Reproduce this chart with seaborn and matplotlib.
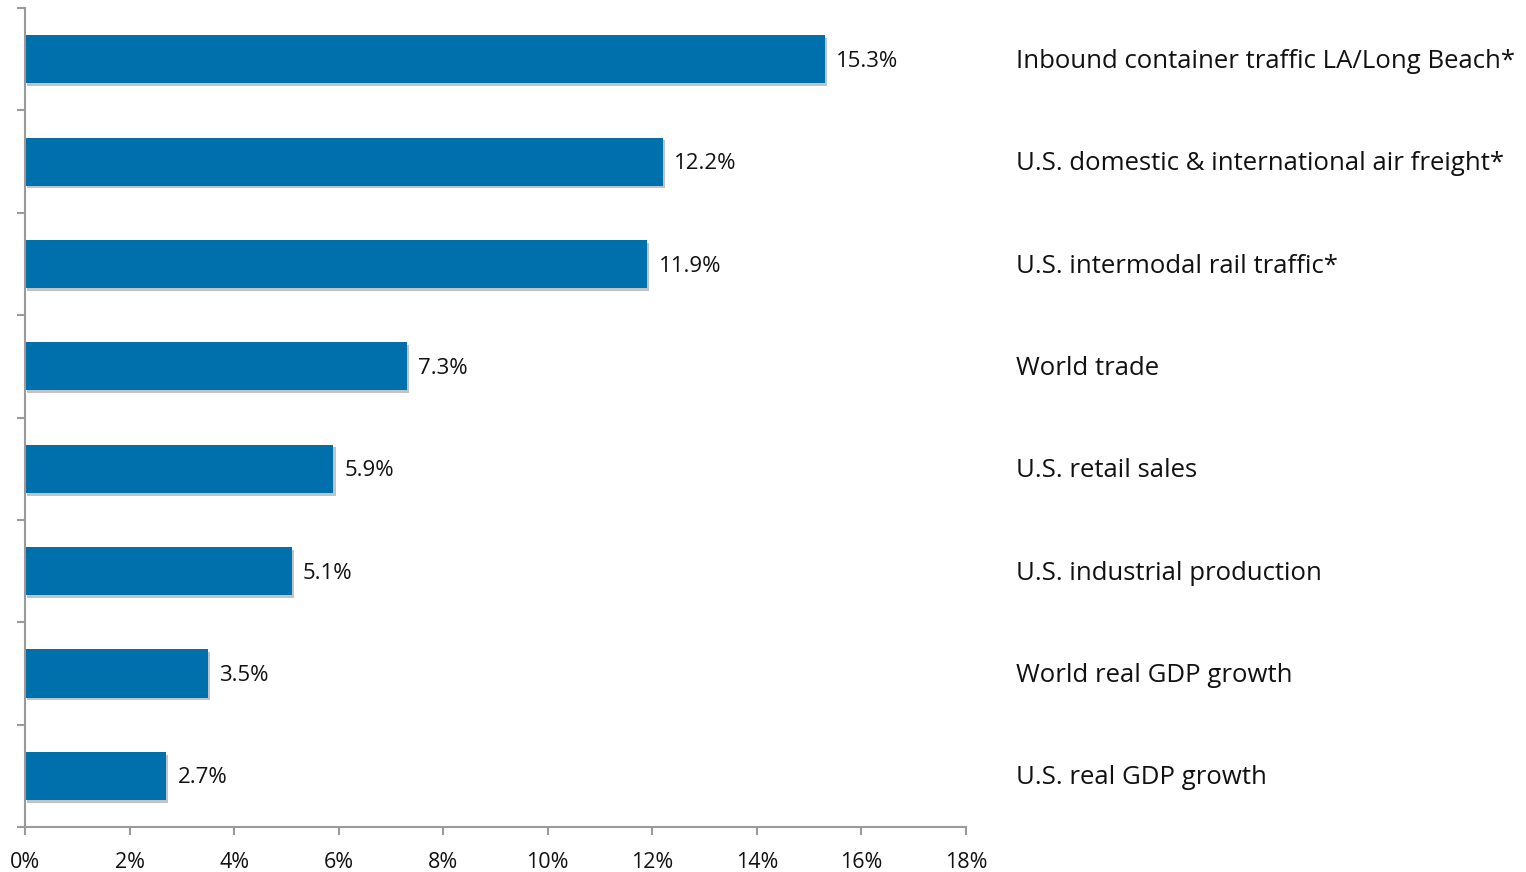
import matplotlib
matplotlib.use("Agg")
import matplotlib.pyplot as plt
import matplotlib.patheffects as pe
import seaborn as sns
import pandas as pd
import numpy as np

categories = [
    "Inbound container traffic LA/Long Beach*",
    "U.S. domestic & international air freight*",
    "U.S. intermodal rail traffic*",
    "World trade",
    "U.S. retail sales",
    "U.S. industrial production",
    "World real GDP growth",
    "U.S. real GDP growth",
]
values = [15.3, 12.2, 11.9, 7.3, 5.9, 5.1, 3.5, 2.7]
x_ticks = [0, 2, 4, 6, 8, 10, 12, 14, 16, 18]

df = pd.DataFrame({"category": categories, "value": values})

sns.set_theme(style="white")
plt.rcParams["font.family"] = ["Open Sans", "DejaVu Sans"]

fig = plt.figure(figsize=(15.26, 8.72), dpi=100)
ax = fig.add_axes([0.0164, 0.0516, 0.6166, 0.9392])

bar_color = "#0070ad"
sns.barplot(data=df, x="value", y="category", orient="h", color=bar_color,
            width=0.47, ax=ax, saturation=1)

# soft drop shadow under each bar
for patch in ax.patches:
    patch.set_edgecolor("none")
    patch.set_path_effects([pe.SimplePatchShadow(offset=(1.5, -2), alpha=0.35, shadow_rgbFace="#555555"),
                            pe.Normal()])

ax.set_xlim(0, 18)
ax.set_ylim(len(categories) - 0.5, -0.5)

ax.set_xticks(x_ticks)
ax.set_xticklabels([f"{t}%" for t in x_ticks], fontsize=15.5, color="#111111")
# ticks on the left mark the boundaries between categories
ax.set_yticks(np.arange(-0.5, len(categories), 1.0))
ax.set_yticklabels([])

for i, (cat, v) in enumerate(zip(categories, values)):
    ax.text(v + 0.22, i + 0.02, f"{v:.1f}%", va="center", ha="left", fontsize=16, color="#111111")
    ax.text(18.95, i + 0.02, cat, va="center", ha="left", fontsize=18.5, color="#111111",
            clip_on=False)

for side in ["top", "right"]:
    ax.spines[side].set_visible(False)
for side in ["left", "bottom"]:
    ax.spines[side].set_color("#9a9a9a")
    ax.spines[side].set_linewidth(1.5)

ax.tick_params(axis="x", direction="out", length=6, width=1.5, color="#9a9a9a", pad=12, bottom=True)
ax.tick_params(axis="y", direction="out", length=6, width=1.5, color="#9a9a9a", left=True)
ax.set_xlabel("")
ax.set_ylabel("")

fig.savefig("out.png", dpi=100)
